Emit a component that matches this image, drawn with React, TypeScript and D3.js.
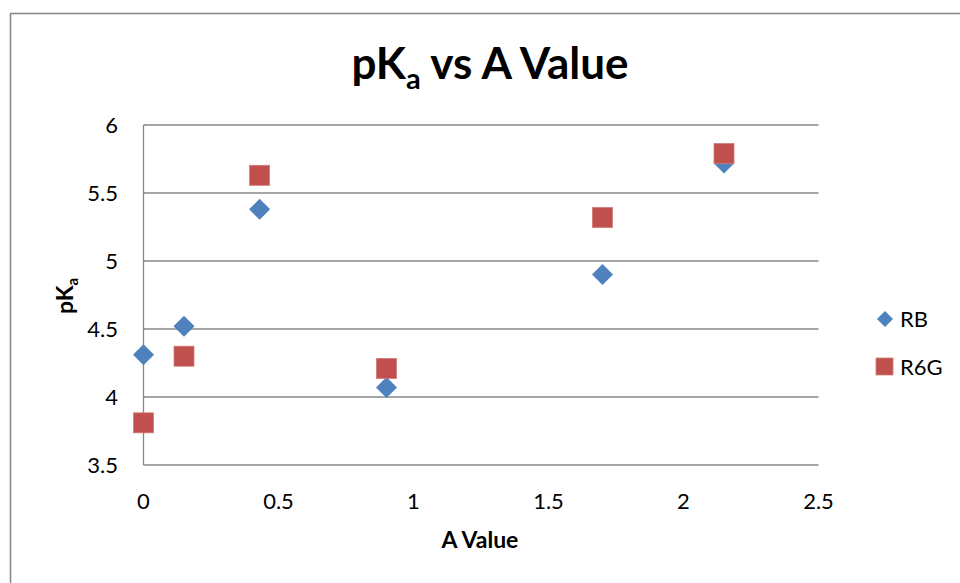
import React from "react";
import * as d3 from "d3";

// A value (x) and measured pKa for each dye
const aValues = [0, 0.15, 0.43, 0.9, 1.7, 2.15];
const rbPka = [4.31, 4.52, 5.38, 4.07, 4.9, 5.72];
const r6gPka = [3.81, 4.3, 5.63, 4.21, 5.32, 5.79];

const xTicks = [0, 0.5, 1, 1.5, 2, 2.5];
const yTicks = [3.5, 4, 4.5, 5, 5.5, 6];
const seriesNames = ["RB", "R6G"];

const W = 960;
const H = 583;
const FONT = "Lato, 'Open Sans', sans-serif";
const BLUE = "#4F81BD";
const RED = "#C0504D";
const GRID = "#878787";

const plot = { left: 143.5, right: 818.5, top: 125, bottom: 465 };

export default function App() {
  const x = d3.scaleLinear().domain([0, 2.5]).range([plot.left, plot.right]);
  const y = d3.scaleLinear().domain([3.5, 6]).range([plot.bottom, plot.top]);

  const diamond = (cx: number, cy: number, r = 10.5) =>
    `M${cx},${cy - r}L${cx + r},${cy}L${cx},${cy + r}L${cx - r},${cy}Z`;

  return (
    <svg
      width={W}
      height={H}
      style={{ position: "absolute", left: 0, top: 0, background: "#fff" }}
    >
      <rect x={0} y={0} width={W} height={H} fill="#fff" />
      {/* chart area frame */}
      <rect
        x={10.5}
        y={13.5}
        width={1000}
        height={700}
        fill="none"
        stroke="#8a8a8a"
        strokeWidth={1.6}
      />

      {/* title */}
      <text
        x={490}
        y={79}
        textAnchor="middle"
        fontFamily={FONT}
        fontWeight="bold"
        fontSize={44}
        fill="#000"
      >
        pK
        <tspan fontSize={29} dy={10}>a</tspan>
        <tspan dy={-10}> vs A Value</tspan>
      </text>

      {/* horizontal gridlines */}
      {yTicks.map((t) => (
        <line
          key={"g" + t}
          x1={plot.left}
          x2={plot.right}
          y1={y(t)}
          y2={y(t)}
          stroke={GRID}
          strokeWidth={1.3}
        />
      ))}
      {/* vertical axis line */}
      <line
        x1={plot.left}
        x2={plot.left}
        y1={plot.top}
        y2={plot.bottom}
        stroke={GRID}
        strokeWidth={1.3}
      />

      {/* y tick labels */}
      {yTicks.map((t) => (
        <text
          key={"yl" + t}
          x={118}
          y={y(t)}
          dy="0.35em"
          textAnchor="end"
          fontFamily={FONT}
          fontSize={22}
          fill="#000"
        >
          {String(t)}
        </text>
      ))}
      {/* x tick labels */}
      {xTicks.map((t) => (
        <text
          key={"xl" + t}
          x={x(t)}
          y={509}
          textAnchor="middle"
          fontFamily={FONT}
          fontSize={22}
          fill="#000"
        >
          {String(t)}
        </text>
      ))}

      {/* axis titles */}
      <text
        x={480}
        y={548}
        textAnchor="middle"
        fontFamily={FONT}
        fontWeight="bold"
        fontSize={23}
        fill="#000"
      >
        A Value
      </text>
      <text
        transform="translate(73,296) rotate(-90)"
        textAnchor="middle"
        fontFamily={FONT}
        fontWeight="bold"
        fontSize={23}
        fill="#000"
      >
        pK
        <tspan fontSize={15} dy={5}>a</tspan>
      </text>

      {/* RB series */}
      {aValues.map((a, i) => (
        <path key={"rb" + i} d={diamond(x(a), y(rbPka[i]))} fill={BLUE} />
      ))}
      {/* R6G series */}
      {aValues.map((a, i) => (
        <rect
          key={"r6g" + i}
          x={x(a) - 10}
          y={y(r6gPka[i]) - 10}
          width={20}
          height={20}
          fill={RED}
          stroke="#d27a78"
          strokeWidth={0.8}
        />
      ))}

      {/* legend */}
      <path d={diamond(885, 319, 8)} fill={BLUE} />
      <text x={900} y={327} fontFamily={FONT} fontSize={22} fill="#000">
        {seriesNames[0]}
      </text>
      <rect x={876} y={358} width={17} height={17} fill={RED} stroke="#d27a78" strokeWidth={0.8} />
      <text x={900} y={375} fontFamily={FONT} fontSize={22} fill="#000">
        {seriesNames[1]}
      </text>
    </svg>
  );
}
